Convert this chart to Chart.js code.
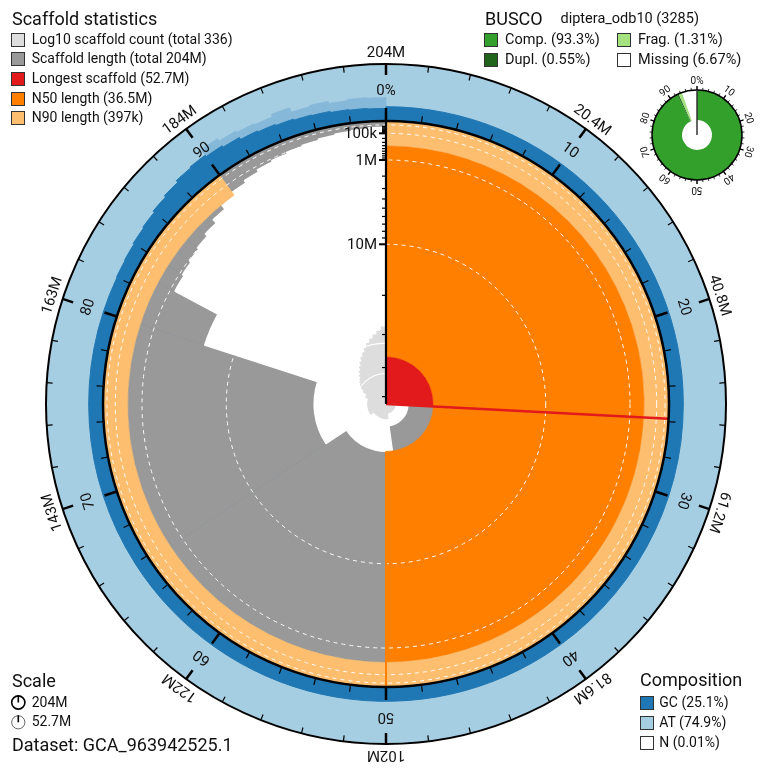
<!DOCTYPE html>
<html>
<head>
<meta charset="utf-8">
<script src="https://cdn.jsdelivr.net/npm/chart.js@4.4.1/dist/chart.umd.min.js"></script>
<style>
  html,body{margin:0;padding:0;background:#fff;}
  body{position:relative;width:764px;height:769px;overflow:hidden;font-family:Roboto,"Noto Sans",sans-serif;color:#111;}
  canvas.layer{position:absolute;left:0;top:0;}
  .t{position:absolute;white-space:nowrap;line-height:1.2;}
  .box{position:absolute;width:14px;height:14px;box-sizing:border-box;border:1.5px solid #333;}
</style>
</head>
<body>
<canvas id="base" class="layer" width="764" height="769"></canvas>
<canvas id="bands" class="layer" width="764" height="769"></canvas>
<canvas id="axes" class="layer" width="764" height="769"></canvas>
<canvas id="busco" style="position:absolute;left:632px;top:70px" width="130" height="130"></canvas>
<div id="legends"></div>
<script>
// ================= DATA =================
const assemblyTotal = 204e6;          // total scaffold length
const scaffoldCount = 336;
const longestScaffold = 52.7e6;
const n50Length = 36.5e6;
const n90Length = 397e3;

// runs of scaffolds along the assembly: end (% of assembly) and scaffold length in that run
const lengthBinEnd   = [25.8, 47.8, 65.7, 80.0, 82.8, 84, 85, 86, 87, 88, 89, 90, 91, 92, 93, 94, 95, 96, 97, 98, 99, 100];
const lengthBinValue = [52.7e6, 44.8e6, 36.5e6, 29.3e6, 5.6e6, 1.25e6, 1.15e6, 1.05e6, 0.95e6, 0.8e6, 0.6e6, 0.42e6,
                        0.3e6, 0.22e6, 0.16e6, 0.13e6, 0.1e6, 0.08e6, 0.06e6, 0.045e6, 0.035e6, 0.025e6];
// cumulative number of scaffolds at the end of each run
const countBinValue  = [1, 2, 3, 4, 5, 7, 9, 11, 13, 15, 19, 24, 31, 40, 53, 68, 88, 118, 152, 197, 255, 336];

// GC proportion along the assembly (mean) and its upper spread in the short scaffolds
const gcBinEnd   = [82, 83, 84, 85, 86, 87, 88, 89, 90, 91, 92, 93, 94, 95, 96, 97, 98, 99, 100];
const gcBinValue = [0.251, 0.26, 0.27, 0.29, 0.31, 0.34, 0.37, 0.41, 0.43, 0.40, 0.37, 0.33, 0.31, 0.29, 0.27, 0.26, 0.24, 0.23, 0.22];
const gcSpreadEnd   = [90, 91, 92, 93, 94, 95, 96, 97, 98, 99, 100];
const gcSpreadValue = [0, 0.55, 0.50, 0.47, 0.45, 0.50, 0.42, 0.44, 0.40, 0.42, 0.41];

// axis labels
const percentTickLabels = ['0%', '10', '20', '30', '40', '50', '60', '70', '80', '90'];
const lengthTickLabels  = ['204M', '20.4M', '40.8M', '61.2M', '81.6M', '102M', '122M', '143M', '163M', '184M'];
const radialTickValues  = [1e5, 1e6, 1e7];
const radialTickLabels  = ['100k', '1M', '10M'];
const radialMinorValues = [2e4,3e4,4e4,5e4,6e4,7e4,8e4,9e4, 2e5,3e5,4e5,5e5,6e5,7e5,8e5,9e5,
                           2e6,3e6,4e6,5e6,6e6,7e6,8e6,9e6, 2e7,3e7,4e7,5e7];
const gridLengths = [1e4, 1e5, 1e6, 1e7];
const countGridValues = [10, 100];

// BUSCO (diptera_odb10, 3285)
const buscoLabels = ['Comp.', 'Dupl.', 'Frag.', 'Missing'];
const buscoValues = [93.3, 0.55, 1.31, 6.67];

// composition
const compLabels = ['GC', 'AT', 'N'];
const compValues = [25.1, 74.9, 0.01];

// ================= STYLE / GEOMETRY =================
const C = {
  at: '#a6cee3', gc: '#1f78b4', gcSpread: '#86b9d9', grey: '#999999', light: '#dddddd', red: '#e31a1c',
  orange: '#ff7f00', lorange: '#fdbf6f', comp: '#33a02c', dupl: '#20641c', frag: '#a3e27f'
};
const INNER_PX = 283, OUTER_PX = 340;            // radii in pixels
const RMAX = OUTER_PX / INNER_PX;                 // scale units: 1 = inner circle
const COUNT_MAX = 77 / INNER_PX;                  // radius of log10 count of all scaffolds
const PAD = {left: 46, top: 64, right: 38, bottom: 25};
const FONT = 'Roboto, "Noto Sans", sans-serif';

const widths = ends => ends.map((e, i) => (e - (i ? ends[i - 1] : 0)) * 3.6);
const depth = L => Math.sqrt(L / longestScaffold);          // sqrt scale, from the inner circle inwards
const holeRadius = L => 1 - depth(L);
const countRadius = n => COUNT_MAX * Math.log10(n) / Math.log10(scaffoldCount);
const gcRadius = g => 1 + (RMAX - 1) * g;

const common = {
  responsive: false, animation: false, events: [],
  layout: {padding: PAD},
  plugins: {legend: {display: false}, tooltip: {enabled: false}}
};

// ================= BASE LAYER: polar area =================
const countGridPlugin = {
  id: 'countGrid',
  afterDatasetsDraw(chart) {
    const meta = chart.getDatasetMeta(5);
    const s = chart.scales.r, ctx = chart.ctx;
    ctx.save();
    ctx.beginPath();
    meta.data.forEach(a => {
      if (a.outerRadius <= 0) return;
      ctx.moveTo(a.x, a.y);
      ctx.arc(a.x, a.y, a.outerRadius, a.startAngle, a.endAngle);
      ctx.closePath();
    });
    ctx.clip();
    ctx.strokeStyle = '#ffffff'; ctx.lineWidth = 1.2;
    countGridValues.forEach(n => {
      ctx.beginPath();
      ctx.arc(s.xCenter, s.yCenter, s.getDistanceFromCenterForValue(countRadius(n)), 0, 2 * Math.PI);
      ctx.stroke();
    });
    ctx.restore();
  }
};

const lenW = widths(lengthBinEnd);
new Chart(document.getElementById('base'), {
  type: 'polarArea',
  data: {
    datasets: [
      { // 0 AT background ring
        data: [RMAX], angle: [360], backgroundColor: C.at, borderWidth: 0, order: 6 },
      { // 1 GC spread
        data: gcSpreadValue.map(g => g > 0 ? gcRadius(g) : 1), angle: widths(gcSpreadEnd),
        backgroundColor: C.gcSpread, borderColor: C.gcSpread, borderWidth: 0.8, order: 5 },
      { // 2 GC
        data: gcBinValue.map(gcRadius), angle: widths(gcBinEnd),
        backgroundColor: C.gc, borderColor: C.gc, borderWidth: 1, order: 4 },
      { // 3 scaffold length area (longest in red)
        data: lengthBinValue.map(() => 1), angle: lenW,
        backgroundColor: lengthBinValue.map((v, i) => i === 0 ? C.red : C.grey),
        borderColor: lengthBinValue.map((v, i) => i === 0 ? C.red : C.grey), borderWidth: 0.6, order: 3 },
      { // 4 empty part inside each scaffold length
        data: lengthBinValue.map(holeRadius), angle: lenW,
        backgroundColor: '#ffffff', borderColor: '#ffffff', borderWidth: 1.2, order: 2 },
      { // 5 log10 scaffold count
        data: countBinValue.map(countRadius), angle: lenW,
        backgroundColor: C.light, borderColor: C.light, borderWidth: 1.2, order: 1 }
    ]
  },
  options: Object.assign({}, common, {
    scales: {r: {display: false, min: 0, max: RMAX}}
  }),
  plugins: [countGridPlugin]
});

// ================= N50 / N90 bands: doughnut =================
const w90 = depth(n90Length);
const w50 = depth(n50Length) - depth(n90Length);
new Chart(document.getElementById('bands'), {
  type: 'doughnut',
  data: {
    datasets: [
      {data: [90, 10], backgroundColor: [C.lorange, 'rgba(0,0,0,0)'], borderColor: [C.lorange, 'rgba(0,0,0,0)'],
       borderWidth: 0.6, weight: w90},
      {data: [50, 50], backgroundColor: [C.orange, 'rgba(0,0,0,0)'], borderColor: [C.orange, 'rgba(0,0,0,0)'],
       borderWidth: 0.6, weight: w50}
    ]
  },
  options: Object.assign({}, common, {
    radius: INNER_PX,
    cutout: (holeRadius(n50Length) * 100) + '%'
  })
});

// ================= axes, grid, ticks, labels =================
function radialLine(ctx, cx, cy, p, r0, r1, color, lw) {
  const a = p / 100 * 2 * Math.PI - Math.PI / 2;
  ctx.beginPath();
  ctx.moveTo(cx + r0 * Math.cos(a), cy + r0 * Math.sin(a));
  ctx.lineTo(cx + r1 * Math.cos(a), cy + r1 * Math.sin(a));
  ctx.strokeStyle = color; ctx.lineWidth = lw; ctx.lineCap = 'butt'; ctx.stroke();
}
function rotText(ctx, cx, cy, p, r, txt, baseline) {
  ctx.save();
  ctx.translate(cx, cy);
  ctx.rotate(p / 100 * 2 * Math.PI);
  ctx.textAlign = 'center'; ctx.textBaseline = baseline;
  ctx.fillText(txt, 0, -r);
  ctx.restore();
}
const decorPlugin = {
  id: 'decor',
  afterDraw(chart) {
    const s = chart.scales.r, ctx = chart.ctx;
    const cx = s.xCenter, cy = s.yCenter;
    const d = v => s.getDistanceFromCenterForValue(v);
    const R = d(1), RO = d(RMAX);
    ctx.save();
    // longest scaffold & N50 lines
    radialLine(ctx, cx, cy, longestScaffold / assemblyTotal * 100, 0, R, C.red, 2.5);
    radialLine(ctx, cx, cy, 50, d(holeRadius(n50Length)), R, C.orange, 2);
    // circles
    ctx.strokeStyle = '#000';
    ctx.lineWidth = 2.5; ctx.beginPath(); ctx.arc(cx, cy, R, 0, 2 * Math.PI); ctx.stroke();
    ctx.lineWidth = 2; ctx.beginPath(); ctx.arc(cx, cy, RO, 0, 2 * Math.PI); ctx.stroke();
    // percent ticks on the inner circle, length ticks on the outer circle
    for (let p = 0; p < 100; p += 2) {
      const major = p % 10 === 0;
      radialLine(ctx, cx, cy, p, R, R + (major ? 13 : 7), '#000', major ? 2.5 : 1.2);
      radialLine(ctx, cx, cy, p, RO, RO - (major ? 11 : 6), '#000', major ? 2.5 : 1.2);
    }
    ctx.fillStyle = '#111';
    ctx.font = '15px ' + FONT;
    percentTickLabels.forEach((t, i) => rotText(ctx, cx, cy, i * 10, R + 30, t, 'middle'));
    lengthTickLabels.forEach((t, i) => rotText(ctx, cx, cy, i * 10, RO + 3, t, 'bottom'));
    // radial length axis
    ctx.beginPath(); ctx.moveTo(cx, cy); ctx.lineTo(cx, cy - R);
    ctx.strokeStyle = '#000'; ctx.lineWidth = 2.2; ctx.stroke();
    ctx.lineWidth = 1.2;
    radialMinorValues.forEach(v => {
      const y = cy - d(holeRadius(v));
      ctx.beginPath(); ctx.moveTo(cx - 4, y); ctx.lineTo(cx, y); ctx.stroke();
    });
    ctx.lineWidth = 2;
    ctx.textAlign = 'right'; ctx.textBaseline = 'middle';
    radialTickValues.forEach((v, i) => {
      const y = cy - d(holeRadius(v));
      ctx.beginPath(); ctx.moveTo(cx - 7, y); ctx.lineTo(cx, y); ctx.stroke();
      ctx.fillText(radialTickLabels[i], cx - 9, y + 1);
    });
    ctx.restore();
  }
};
new Chart(document.getElementById('axes'), {
  type: 'polarArea',
  data: {datasets: [{data: []}]},
  options: Object.assign({}, common, {
    scales: {r: {
      display: true, min: 0, max: RMAX,
      ticks: {display: false},
      pointLabels: {display: false},
      angleLines: {display: false},
      grid: {circular: true, color: 'rgba(255,255,255,0.95)', lineWidth: 1, z: 1},
      border: {dash: [4, 4]},
      afterBuildTicks: sc => { sc.ticks = [{value: 0}].concat(gridLengths.map(L => ({value: holeRadius(L)}))); }
    }}
  }),
  plugins: [decorPlugin]
});

// ================= BUSCO doughnut =================
const buscoPlugin = {
  id: 'buscoDecor',
  afterDraw(chart) {
    const a = chart.getDatasetMeta(0).data[0];
    const ctx = chart.ctx, cx = a.x, cy = a.y, R = a.outerRadius;
    ctx.save();
    ctx.strokeStyle = '#000';
    ctx.lineWidth = 1.5; ctx.beginPath(); ctx.arc(cx, cy, R, 0, 2 * Math.PI); ctx.stroke();
    radialLine(ctx, cx, cy, 0, 0, R, '#333', 1.5);
    for (let p = 0; p < 100; p += 2) {
      const major = p % 10 === 0;
      radialLine(ctx, cx, cy, p, R, R + (major ? 4 : 2.5), '#000', major ? 1.5 : 0.8);
    }
    ctx.fillStyle = '#111'; ctx.font = '10px ' + FONT;
    percentTickLabels.forEach((t, i) => rotText(ctx, cx, cy, i * 10, R + 9, t, 'middle'));
    ctx.restore();
  }
};
new Chart(document.getElementById('busco'), {
  type: 'doughnut',
  data: {labels: buscoLabels, datasets: [{
    data: [buscoValues[0] - buscoValues[1], buscoValues[1], buscoValues[2], 100 - buscoValues[0] - buscoValues[2]],
    backgroundColor: [C.comp, C.dupl, C.frag, '#ffffff'], borderWidth: 0
  }]},
  options: {
    responsive: false, animation: false, events: [],
    layout: {padding: 20}, cutout: '33.3%',
    plugins: {legend: {display: false}, tooltip: {enabled: false}}
  },
  plugins: [buscoPlugin]
});

// ================= HTML legends =================
const L = document.getElementById('legends');
function text(x, yc, str, size) {
  const el = document.createElement('div');
  el.className = 't'; el.textContent = str;
  el.style.left = x + 'px'; el.style.top = (yc - 0.6 * size * 1.0 - 0.5) + 'px';
  el.style.fontSize = size + 'px';
  L.appendChild(el);
}
function box(x, yc, color) {
  const el = document.createElement('div');
  el.className = 'box'; el.style.left = x + 'px'; el.style.top = (yc - 7) + 'px';
  el.style.background = color; L.appendChild(el);
}
text(12, 19.3, 'Scaffold statistics', 18);
const statItems = [
  [C.light, 'Log10 scaffold count (total ' + scaffoldCount + ')'],
  [C.grey, 'Scaffold length (total 204M)'],
  [C.red, 'Longest scaffold (52.7M)'],
  [C.orange, 'N50 length (36.5M)'],
  [C.lorange, 'N90 length (397k)']
];
statItems.forEach((it, i) => { const y = 39.7 + i * 19.65; box(11, y, it[0]); text(31.7, y, it[1], 14); });

text(485, 19.2, 'BUSCO', 18);
text(560.5, 19.5, 'diptera_odb10 (3285)', 14.5);
const buscoCols = [C.comp, C.dupl, C.frag, '#ffffff'];
buscoLabels.forEach((lab, i) => {
  const x = i < 2 ? 484 : 617, y = i % 2 === 0 ? 40 : 60;
  box(x, y, buscoCols[i]); text(x + 21, y, lab + ' (' + buscoValues[i] + '%)', 14.5);
});

text(640, 680.5, 'Composition', 18);
const compCols = [C.gc, C.at, '#ffffff'];
compLabels.forEach((lab, i) => { const y = 702.5 + i * 20.2; box(639.5, y, compCols[i]); text(659.3, y, lab + ' (' + compValues[i] + '%)', 14); });

text(12, 681.5, 'Scale', 18);
text(31.7, 702.5, '204M', 14);
text(31.7, 722.3, '52.7M', 14);
text(12, 745.5, 'Dataset: GCA_963942525.1', 18);
// scale icons
L.insertAdjacentHTML('beforeend',
  '<svg style="position:absolute;left:9px;top:693px" width="20" height="40">' +
  '<circle cx="9.3" cy="9.5" r="6.6" fill="none" stroke="#000" stroke-width="1.6"/>' +
  '<line x1="9.3" y1="2.5" x2="9.3" y2="9.5" stroke="#000" stroke-width="1.6"/>' +
  '<circle cx="9.3" cy="29.3" r="6.6" fill="none" stroke="#555" stroke-width="0.9"/>' +
  '<line x1="9.3" y1="22.3" x2="9.3" y2="29.3" stroke="#000" stroke-width="1.6"/>' +
  '</svg>');
</script>
</body>
</html>
